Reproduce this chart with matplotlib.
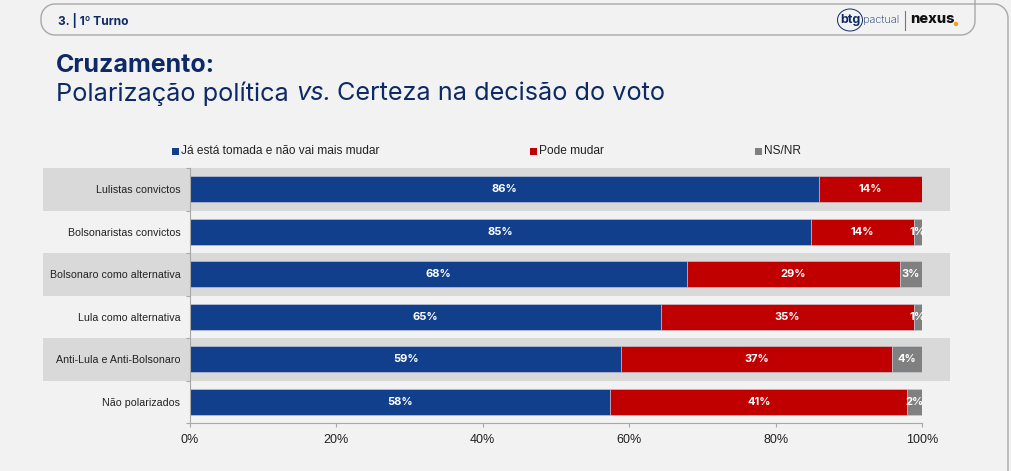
import matplotlib
matplotlib.use("Agg")
import matplotlib.pyplot as plt
from matplotlib.patches import Rectangle, Ellipse, Circle
import matplotlib.transforms as mtransforms
import numpy as np

categories = ["Lulistas convictos", "Bolsonaristas convictos", "Bolsonaro como alternativa",
              "Lula como alternativa", "Anti-Lula e Anti-Bolsonaro", "Não polarizados"]
ja_tomada = [85.9, 84.8, 67.9, 64.3, 58.9, 57.4]
pode_mudar = [14.1, 14.1, 29.1, 34.6, 37.0, 40.6]
ns_nr = [0.0, 1.1, 3.0, 1.1, 4.1, 2.0]
ja_labels = ["86%", "85%", "68%", "65%", "59%", "58%"]
pode_labels = ["14%", "14%", "29%", "35%", "37%", "41%"]
ns_labels = ["", "1%", "3%", "1%", "4%", "2%"]
series_names = ["Já está tomada e não vai mais mudar", "Pode mudar", "NS/NR"]
xticks = [0, 20, 40, 60, 80, 100]
xtick_labels = ["0%", "20%", "40%", "60%", "80%", "100%"]

BLUE = "#113f8c"
RED = "#c00000"
GRAY = "#808080"
BG = "#f2f2f2"
BAND = "#d9d9d9"
NAVY = "#0e2a66"
EDGE = "#a8a8a8"

W, H = 1012, 471
fig = plt.figure(figsize=(W / 100, H / 100), dpi=100, facecolor=BG)

# overlay axes in pixel coordinates for decorations
ov = fig.add_axes([0, 0, 1, 1], zorder=0)
ov.set_xlim(0, W)
ov.set_ylim(H, 0)
ov.axis("off")
ov.set_facecolor("none")

def arc(cx, cy, r, a0, a1, n=20):
    t = np.radians(np.linspace(a0, a1, n))
    return cx + r * np.cos(t), cy - r * np.sin(t)

# header pill: left at 41, right at 975, top 4, bottom 35
r = 14
xs, ys = [], []
xs += [975, 41 + r]; ys += [4, 4]
ax_, ay_ = arc(41 + r, 4 + r, r, 90, 180); xs += list(ax_); ys += list(ay_)
ax_, ay_ = arc(41 + r, 35 - r, r, 180, 270); xs += list(ax_); ys += list(ay_)
xs += [975 - r]; ys += [35]
ax_, ay_ = arc(975 - r, 35 - r, r, 270, 360); xs += list(ax_); ys += list(ay_)
xs += [975]; ys += [0]
ov.plot(xs, ys, color=EDGE, lw=1.0, solid_capstyle="butt")
# outer right shape
r2 = 14
xs2 = [975, 1008 - r2]; ys2 = [4, 4]
ax_, ay_ = arc(1008 - r2, 4 + r2, r2, 90, 0); xs2 += list(ax_); ys2 += list(ay_)
xs2 += [1008]; ys2 += [H + 5]
ov.plot(xs2, ys2, color=EDGE, lw=1.0)

fig.text(58 / W, 1 - 21 / H, "3. | 1º Turno", fontsize=8.6, fontweight="bold", color=NAVY,
         family="Inter", va="center", ha="left")
# logo
ov.add_patch(Ellipse((850, 20), 25, 22, facecolor="none", edgecolor=NAVY, lw=0.7))
ov.text(850, 20, "btg", fontsize=9, fontweight="bold", color=NAVY, family="Inter",
        va="center", ha="center")
ov.text(863, 20, "pactual", fontsize=8, color=NAVY, family="Inter", va="center",
        ha="left", fontweight="light")
ov.plot([905, 905], [11, 30], color="#777777", lw=0.8)
ov.text(910, 19, "nexus", fontsize=10.5, fontweight="heavy", color="#111111",
        family="Inter", va="center", ha="left")
ov.add_patch(Circle((956, 24), 2.2, facecolor="#f5a01a", edgecolor="none"))

# titles
fig.text(56 / W, 1 - 65 / H, "Cruzamento:", fontsize=18, fontweight="bold", color=NAVY,
         family="Inter", va="center", ha="left")
renderer = fig.canvas.get_renderer()
sub_fs = 18.2
p1 = fig.text(56 / W, 1 - 94 / H, "Polarização política", fontsize=sub_fs, color=NAVY,
              family="Inter", va="center", ha="left")
bb = p1.get_window_extent(renderer)
x_vs = bb.x1 + 7
p2 = fig.text(x_vs / W, 1 - 94 / H, "vs.", fontsize=sub_fs, color=NAVY, family="Inter",
              style="italic", va="center", ha="left")
bb2 = p2.get_window_extent(renderer)
fig.text((bb2.x1 + 6) / W, 1 - 94 / H, "Certeza na decisão do voto", fontsize=sub_fs,
         color=NAVY, family="Inter", va="center", ha="left")

# axes
ax = fig.add_axes([190 / W, 1 - 423 / H, (922 - 190) / W, (423 - 168) / H], zorder=2)
ax.set_facecolor("none")
n = len(categories)
ypos = list(range(n))
ax.set_ylim(n - 0.5, -0.5)
ax.set_xlim(0, 100)

trans = mtransforms.blended_transform_factory(fig.transFigure, ax.transData)
for i in ypos:
    if i % 2 == 0:
        ax.add_patch(Rectangle((43 / W, i - 0.5), (950 - 43) / W, 1.0, transform=trans,
                               facecolor=BAND, edgecolor="none", clip_on=False, zorder=0))

h = 0.62
left2 = [a for a in ja_tomada]
left3 = [a + b for a, b in zip(ja_tomada, pode_mudar)]
ax.barh(ypos, ja_tomada, height=h, color=BLUE, edgecolor="#c8cfdc", linewidth=0.4,
        label=series_names[0], zorder=2)
ax.barh(ypos, pode_mudar, left=left2, height=h, color=RED, edgecolor="#c8cfdc",
        linewidth=0.4, label=series_names[1], zorder=2)
ax.barh(ypos, ns_nr, left=left3, height=h, color=GRAY, edgecolor="#c8cfdc",
        linewidth=0.4, label=series_names[2], zorder=2)

lab_kw = dict(color="white", fontsize=8, fontweight="bold", family="Inter",
              ha="center", va="center", zorder=3)
for i in ypos:
    ax.text(ja_tomada[i] / 2, i, ja_labels[i], **lab_kw)
    ax.text(left2[i] + pode_mudar[i] / 2, i, pode_labels[i], **lab_kw)
    if ns_labels[i]:
        ax.text(left3[i] + ns_nr[i] / 2, i, ns_labels[i], **lab_kw)

ax.set_yticks(ypos)
ax.set_yticklabels(categories, fontsize=7.7, family="Liberation Sans", color="#222222")
ax.set_yticks([i + 0.5 for i in range(-1, n)], minor=True)
ax.tick_params(axis="y", which="major", length=0, pad=7)
ax.tick_params(axis="y", which="minor", length=3, color=EDGE, width=0.8)
ax.set_xticks(xticks)
ax.set_xticklabels(xtick_labels, fontsize=9, family="Liberation Sans", color="#222222")
ax.tick_params(axis="x", length=3, color=EDGE, width=0.8, pad=5)
for s in ["top", "right"]:
    ax.spines[s].set_visible(False)
for s in ["left", "bottom"]:
    ax.spines[s].set_color(EDGE)
    ax.spines[s].set_linewidth(0.8)

# legend
for xs_, name, col in zip([172, 530, 755], series_names, [BLUE, RED, GRAY]):
    ov.add_patch(Rectangle((xs_, 147.5), 7, 7, facecolor=col, edgecolor="none"))
    ov.text(xs_ + 9, 151, name, fontsize=8.6, family="Liberation Sans",
            color="#222222", va="center", ha="left")

fig.savefig("out.png", dpi=100, facecolor=BG)
